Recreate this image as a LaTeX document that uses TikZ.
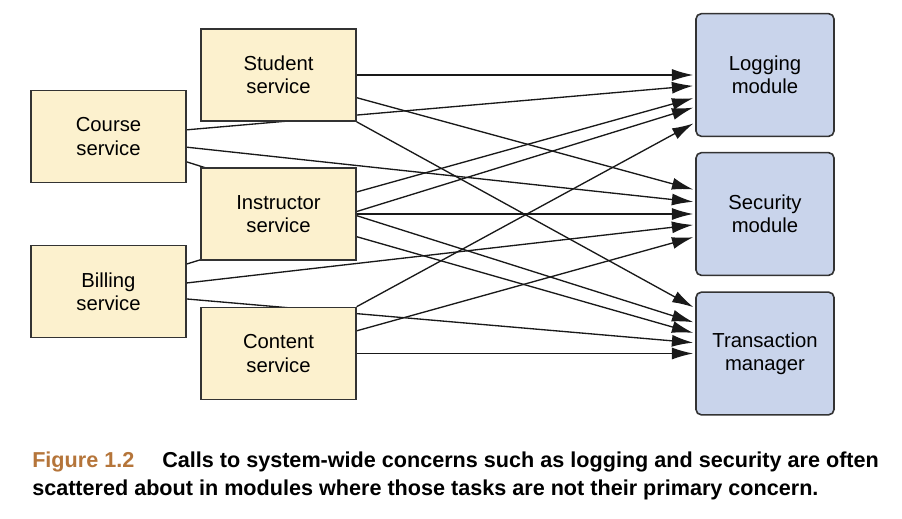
\documentclass[tikz,border=0pt]{standalone}
\usepackage{fontspec}
\setmainfont{Liberation Sans}
\usepackage{tikz}
\usetikzlibrary{positioning}
\usetikzlibrary{arrows.meta}
\usetikzlibrary{backgrounds}

\definecolor{servfill}{HTML}{FCF1CE}
\definecolor{modfill}{HTML}{C9D4EB}
\definecolor{bordegris}{HTML}{333333}
\definecolor{figbrown}{HTML}{B5753A}

\begin{document}
\begin{tikzpicture}[x=0.75pt, y=-0.75pt,
    servicio/.style={draw=bordegris, line width=1.2pt, fill=servfill, minimum width=116pt, minimum height=69pt, inner sep=0pt, align=center, font=\fontsize{15.2}{17.3}\selectfont},
    modulo/.style={draw=bordegris, line width=1.2pt, fill=modfill, rounded corners=4pt, minimum width=103.5pt, minimum height=92pt, inner sep=0pt, align=center, font=\fontsize{15.2}{17.3}\selectfont},
    llamada/.style={-{Latex[length=16pt,width=9pt]}, line width=1pt, draw=black!90, shorten >=1.5pt},
    pie/.style={anchor=base west, inner sep=0pt, font=\fontsize{16.2}{21}\selectfont\bfseries}]
              \useasboundingbox (0,0) rectangle (902,518);
              % Servicios
              \node[servicio] (stu) at (278.5,75) {Student\\service};
              \node[servicio] (crs) at (108.5,136.5) {Course\\service};
              \node[servicio] (ins) at (278.5,214) {Instructor\\service};
              \node[servicio] (bil) at (108.5,291.5) {Billing\\service};
              \node[servicio] (cnt) at (278.5,353.5) {Content\\service};

              % Modulos
              \node[modulo] (log) at (765,75) {Logging\\module};
              \node[modulo] (sec) at (765,214) {Security\\module};
              \node[modulo] (trn) at (765,353.5) {Transaction\\manager};

              % Pie de figura
              \node[pie, text=figbrown] (fig) at (32,467) {Figure 1.2};
              \node[pie] (cap1) at (162,467) {Calls to system-wide concerns such as logging and security are often};
              \node[pie] (cap2) at (32,495) {scattered about in modules where those tasks are not their primary concern.};

              % Llamadas
              \begin{scope}[on background layer]
              \draw[llamada] (stu.east) -- (log.west);
              \draw[llamada] ([yshift=-17pt]stu.east) -- ([yshift=18pt]sec.west);
              \draw[llamada] (stu.south east) -- ([yshift=34pt]trn.west);
              \draw[llamada] ([yshift=5pt]crs.east) -- ([yshift=-8pt]log.west);
              \draw[llamada] ([yshift=-8pt]crs.east) -- ([yshift=9pt]sec.west);
              \draw[llamada] ([yshift=-19pt]crs.east) -- ([yshift=23pt]trn.west);
              \draw[llamada] ([yshift=16.5pt]ins.east) -- ([yshift=-17pt]log.west);
              \draw[llamada] (ins.east) -- (sec.west);
              \draw[llamada] ([yshift=-17pt]ins.east) -- ([yshift=15pt]trn.west);
              \draw[llamada] ([yshift=20.6pt]bil.east) -- ([yshift=-24pt]log.west);
              \draw[llamada] ([yshift=6.4pt]bil.east) -- ([yshift=-8pt]sec.west);
              \draw[llamada] ([yshift=-5.6pt]bil.east) -- ([yshift=8pt]trn.west);
              \draw[llamada] (cnt.north east) -- ([yshift=-35.6pt]log.west);
              \draw[llamada] ([yshift=17pt]cnt.east) -- ([yshift=-17pt]sec.west);
              \draw[llamada] (cnt.east) -- (trn.west);
              \end{scope}
            \end{tikzpicture}
\end{document}
